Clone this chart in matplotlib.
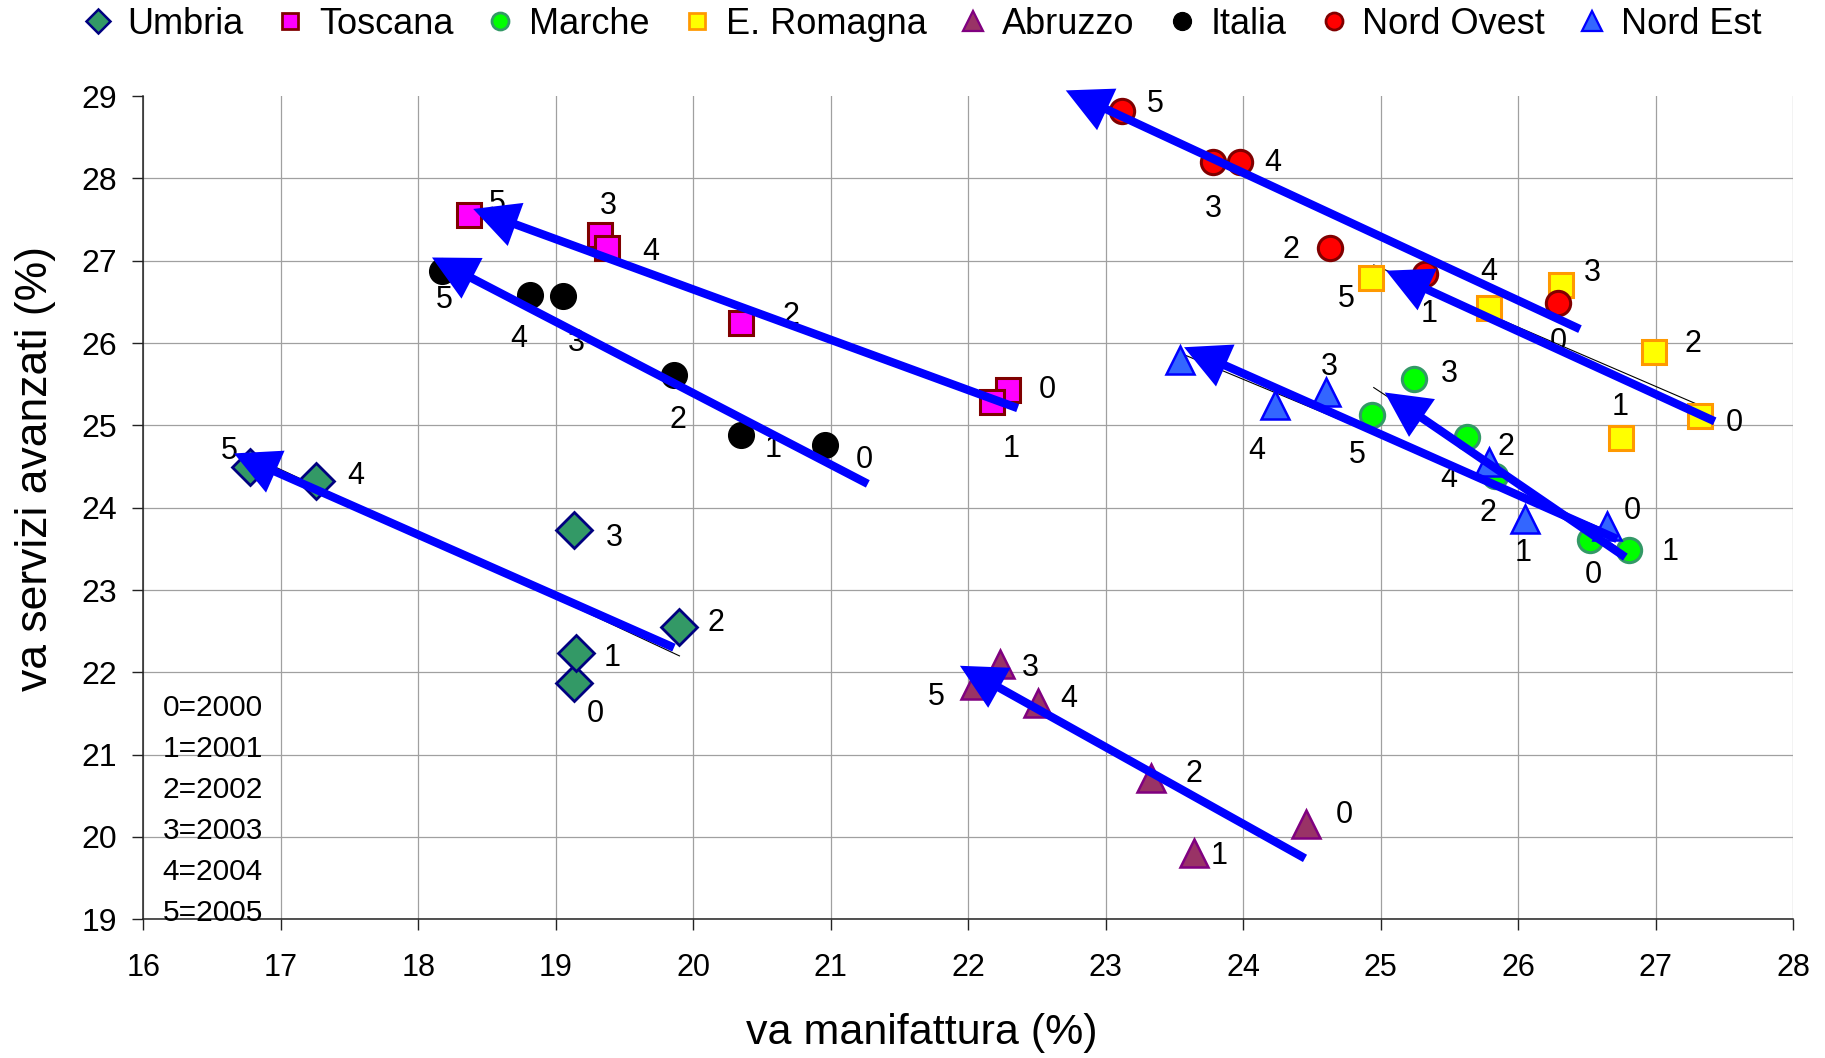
#!/usr/bin/env python3
"""
plot.py  -  va servizi avanzati vs va manifattura, 2000-2005, per area,
with hand-drawn style trend arrows.
"""

import matplotlib
matplotlib.use("Agg")
import matplotlib.pyplot as plt
from matplotlib.lines import Line2D
from matplotlib.patches import FancyArrowPatch

plt.rcParams["font.family"] = ["Liberation Sans", "DejaVu Sans"]

# ---------------------------------------------------------------------------
# Data (year index 0=2000 ... 5=2005)
# ---------------------------------------------------------------------------

years = ["0", "1", "2", "3", "4", "5"]
year_key = ["0=2000", "1=2001", "2=2002", "3=2003", "4=2004", "5=2005"]

umbria_x = [19.13, 19.15, 19.90, 19.13, 17.26, 16.78]
umbria_y = [21.87, 22.23, 22.55, 23.73, 24.33, 24.49]

toscana_x = [22.29, 22.17, 20.35, 19.32, 19.37, 18.37]
toscana_y = [25.43, 25.29, 26.25, 27.31, 27.16, 27.56]

marche_x = [26.52, 26.81, 25.83, 25.24, 25.63, 24.94]
marche_y = [23.61, 23.49, 24.38, 25.57, 24.86, 25.13]

eromagna_x = [27.32, 26.75, 26.99, 26.31, 25.79, 24.93]
eromagna_y = [25.11, 24.85, 25.89, 26.70, 26.43, 26.79]

abruzzo_x = [24.46, 23.64, 23.33, 22.23, 22.51, 22.05]
abruzzo_y = [20.16, 19.80, 20.72, 22.10, 21.63, 21.85]

italia_x = [20.96, 20.35, 19.86, 19.05, 18.81, 18.17]
italia_y = [24.76, 24.88, 25.61, 26.57, 26.59, 26.88]

nordovest_x = [26.29, 25.32, 24.63, 23.78, 23.98, 23.12]
nordovest_y = [26.49, 26.84, 27.15, 28.20, 28.20, 28.82]

nordest_x = [26.65, 26.05, 25.79, 24.60, 24.23, 23.54]
nordest_y = [23.78, 23.86, 24.56, 25.41, 25.25, 25.80]
nordest_labels = ["0", "1", "2", "3", "4", ""]

# trend arrows: (x_tail, y_tail, x_tip, y_tip)
arrow_umbria = (19.86, 22.30, 16.66, 24.66)
arrow_toscana = (22.36, 25.21, 18.40, 27.63)
arrow_italia = (21.27, 24.29, 18.10, 27.04)
arrow_nordovest = (26.45, 26.17, 22.71, 29.07)
arrow_eromagna = (27.43, 25.05, 25.04, 26.88)
arrow_marche = (26.78, 23.40, 25.03, 25.40)
arrow_nordest = (26.72, 23.62, 23.57, 25.95)
arrow_abruzzo = (24.45, 19.74, 21.94, 22.08)

# thin trendlines peeking out from under some arrows: (x0, y0, x1, y1)
trend_umbria = (16.80, 24.62, 19.90, 22.20)
trend_eromagna = (24.95, 26.95, 27.34, 25.23)
trend_nordest = (23.54, 25.88, 26.65, 23.72)
trend_marche = (24.95, 25.46, 26.81, 23.42)

x_ticks = list(range(16, 29))
y_ticks = list(range(19, 30))

# ---------------------------------------------------------------------------
# Styling
# ---------------------------------------------------------------------------

# label offsets in points, one per year
OFF_UMBRIA = [(16, -22), (26, -3), (26, 3), (29, -6), (28, 3), (-15, 12)]
OFF_TOSCANA = [(28, 0), (14, -34), (36, 5), (6, 21), (32, -3), (20, 8)]
OFF_MARCHE = [(3, -25), (29, -2), (8, 21), (26, 3), (-13, -30), (-11, -29)]
OFF_EROMAGNA = [(25, -5), (-1, 22), (28, 6), (23, 9), (0, 26), (-18, -15)]
OFF_ABRUZZO = [(27, 6), (18, -2), (31, 3), (22, -3), (22, 3), (-28, -9)]
OFF_ITALIA = [(28, -11), (23, -10), (3, -32), (10, -34), (-8, -32), (2, -21)]
OFF_NORDOVEST = [(0, -28), (3, -29), (-28, -1), (0, -34), (23, -1), (24, 5)]
OFF_NORDEST = [(18, 11), (-1, -24), (-1, -37), (3, 18), (-13, -33), (0, 0)]

SERIES = [
    # name, x, y, labels, offsets, marker, size, face, edge, edge width
    ("Umbria", umbria_x, umbria_y, years, OFF_UMBRIA, "D", 18, "#339966", "#000080", 2.0),
    ("Toscana", toscana_x, toscana_y, years, OFF_TOSCANA, "s", 17, "#FF00FF", "#800000", 2.2),
    ("Marche", marche_x, marche_y, years, OFF_MARCHE, "o", 17.5, "#00FF00", "#339966", 2.2),
    ("E. Romagna", eromagna_x, eromagna_y, years, OFF_EROMAGNA, "s", 17, "#FFFF00", "#FF9900", 2.2),
    ("Abruzzo", abruzzo_x, abruzzo_y, years, OFF_ABRUZZO, "^", 20, "#993366", "#800080", 1.8),
    ("Italia", italia_x, italia_y, years, OFF_ITALIA, "o", 18.5, "#000000", "#000000", 1.0),
    ("Nord Ovest", nordovest_x, nordovest_y, years, OFF_NORDOVEST, "o", 17.5, "#FF0000", "#800000", 2.2),
    ("Nord Est", nordest_x, nordest_y, nordest_labels, OFF_NORDEST, "^", 20, "#3366FF", "#0000FF", 1.8),
]

ARROWS = [arrow_umbria, arrow_toscana, arrow_italia, arrow_nordovest,
          arrow_eromagna, arrow_marche, arrow_nordest, arrow_abruzzo]
TRENDS = [trend_umbria, trend_eromagna, trend_nordest, trend_marche]

fig = plt.figure(figsize=(18.25, 10.58), dpi=100)
ax = fig.add_axes([0.0785, 0.1311, 0.904, 0.778])

ax.set_xlim(16, 28)
ax.set_ylim(19, 29)
ax.set_xticks(x_ticks)
ax.set_yticks(y_ticks)
ax.grid(True, color="#a0a0a0", linewidth=0.9, zorder=0)
ax.set_axisbelow(True)
ax.yaxis.get_major_ticks()[-1].gridline.set_visible(False)

ax.spines[["top", "right"]].set_visible(False)
for s in ("left", "bottom"):
    ax.spines[s].set_linewidth(1.1)
    ax.spines[s].set_color("#222222")
ax.tick_params(direction="out", length=8, width=1, color="#222222")
ax.tick_params(axis="y", labelsize=23, pad=11)
ax.tick_params(axis="x", labelsize=22, pad=16)

ax.set_xlabel("va manifattura (%)", fontsize=31)
ax.set_ylabel("va servizi avanzati (%)", fontsize=32)
ax.xaxis.set_label_coords(0.472, -0.114)
ax.yaxis.set_label_coords(-0.053, 0.548)

# thin trendlines
for x0, y0, x1, y1 in TRENDS:
    ax.plot([x0, x1], [y0, y1], color="black", lw=0.8, zorder=2)

handles = []
for name, xs, ys, labs, offs, mk, ms, fc, ec, mew in SERIES:
    ax.plot(xs, ys, ls="none", marker=mk, markersize=ms, markerfacecolor=fc,
            markeredgecolor=ec, markeredgewidth=mew, zorder=3)
    for x, y, lab, (dx, dy) in zip(xs, ys, labs, offs):
        if lab:
            ax.annotate(lab, (x, y), xytext=(dx, dy), textcoords="offset points",
                        ha="center", va="center", fontsize=22, zorder=4)
    handles.append(Line2D([], [], ls="none", marker=mk, markersize=ms * 0.7,
                          markerfacecolor=fc, markeredgecolor=ec,
                          markeredgewidth=mew * 0.9, label=name))

for x0, y0, x1, y1 in ARROWS:
    arr = FancyArrowPatch((x0, y0), (x1, y1),
                          arrowstyle="simple,head_length=3.25,head_width=3.3,tail_width=0.6",
                          mutation_scale=10, color="#0000FF", lw=0,
                          shrinkA=0, shrinkB=0, zorder=6, clip_on=False)
    ax.add_patch(arr)

# year key, bottom left
for i, txt in enumerate(year_key):
    ax.text(0.0725, 0.2564 - i * 0.0498, txt, transform=ax.transAxes,
            ha="right", va="center", fontsize=21.5, zorder=5)

fig.legend(handles=handles, loc="center", bbox_to_anchor=(0.505, 0.977),
           ncol=8, frameon=False, fontsize=26, handlelength=0.9,
           handletextpad=0.35, columnspacing=0.85, borderaxespad=0)

fig.savefig("out.png", dpi=100)
